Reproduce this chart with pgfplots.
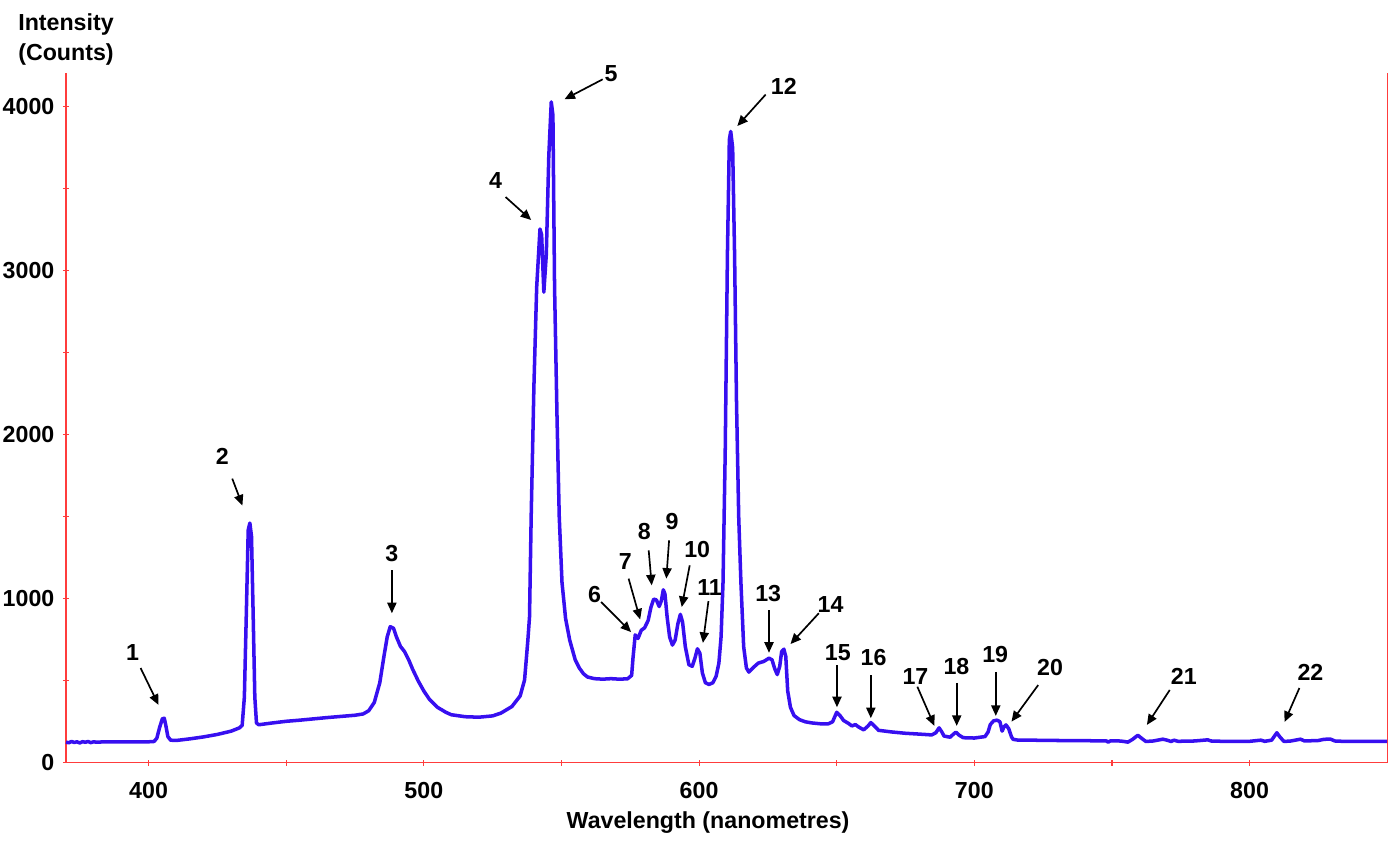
\documentclass[border=0pt]{standalone}
\usepackage{fontspec}
\setmainfont{Liberation Sans}
\usepackage{pgfplots}
\pgfplotsset{compat=1.18}
\usetikzlibrary{arrows.meta}
\definecolor{specblue}{RGB}{55,15,240}
\definecolor{axred}{RGB}{255,60,60}
\newcommand{\annfont}{\fontsize{16.5}{21.3}\selectfont\bfseries}
\tikzset{annarrow/.style={-{Triangle[length=7.5pt,width=6.5pt]}, line width=1.2pt, black}}
% label, label x, label y, tail x, tail y, head x, head y
\newcommand{\ann}[7]{%
  \node[font=\annfont, inner sep=0pt] at (axis cs:#2,#3) {#1};
  \draw[annarrow] (axis cs:#4,#5) -- (axis cs:#6,#7);
}

\begin{document}
\begin{tikzpicture}
\useasboundingbox (-1.65,-2.0) rectangle (33.35,19.07);
\begin{axis}[
    at={(0,0)}, anchor=south west,
    scale only axis,
    width=33.03cm, height=17.235cm,
    xmin=370, xmax=850, ymin=0, ymax=4204,
    xtick={400,500,...,800}, minor xtick={450,550,650,750},
    ytick={0,1000,...,4000}, minor ytick={500,1500,2500,3500},
    xtick pos=bottom, ytick pos=left,
    tick align=center,
    major tick length=0.16cm, minor tick length=0.16cm,
    tick style={axred, line width=0.8pt},
    axis line style={draw=none},
    tick label style={font=\annfont},
    xticklabel style={anchor=north, inner sep=0pt, yshift=-0.40cm},
    yticklabel style={anchor=east, inner sep=0pt, xshift=-0.205cm},
    /pgf/number format/assume math mode=true,
    /pgf/number format/set thousands separator={},
    clip=false,
]
\draw[axred, line width=0.9pt] (rel axis cs:0,1) -- (rel axis cs:0,0) -- (rel axis cs:1,0) -- (rel axis cs:1,1);

\addplot[specblue, line width=2.5pt, line join=round, mark=none] coordinates {
(370,126) (371,122) (372,130) (373,124) (374,128) (375,121) (376,129) (377,125)
(378,130) (379,123) (380,128) (381,126) (385,128) (390,128) (395,128) (400,128)
(402,130) (403,150) (404,215) (405,268) (405.7,272) (406.3,225) (407,160) (408,138)
(410,136) (415,146) (420,158) (425,173) (430,193) (433,213) (434,228) (434.8,400)
(435.5,900) (436.2,1420) (436.8,1462) (437.4,1380) (438,900) (438.6,400) (439.2,243)
(440,232) (445,243) (450,253) (455,260) (460,268) (465,276) (470,283) (475,290)
(478,298) (480,318) (482,368) (484,488) (485.5,648) (486.7,768) (487.8,830) (489,820)
(490,770) (491.5,710) (493,678) (494.5,628) (496,568) (498,498) (500,438) (502,388)
(505,338) (508,308) (510,293) (515,281) (520,278) (525,286) (528,303) (532,343)
(535,408) (536.6,505) (537.8,748) (538.4,890) (539,1500) (540,2300) (541,2900)
(542.2,3255) (542.8,3220) (543.6,2870) (544.5,3100) (545.4,3700) (546.3,4030)
(546.9,3950) (547.5,2900) (548.4,2100) (549.2,1500) (550.2,1100) (551.5,880)
(553,748) (555,628) (556.5,578) (558,543) (559.5,523) (562,513) (565,510) (568,513)
(571,510) (574,512) (575.5,533) (576,640) (576.8,780) (577.8,758) (579,808)
(580.2,823) (581.5,868) (582.5,948) (583.5,998) (584.5,993) (585.5,953) (586.3,988)
(587,1055) (587.6,1030) (588.4,888) (589.3,768) (590.3,718) (591.3,748) (592.3,848)
(593.2,905) (594,858) (595,708) (596.3,598) (597.5,588) (598.5,638) (599.4,695)
(600.3,668) (601.2,548) (602.3,488) (603.6,478) (605,488) (606.2,528) (607.2,608)
(608,770) (608.7,1100) (609.5,1900) (610.3,3100) (611,3800) (611.5,3850)
(612.2,3750) (612.9,3100) (613.6,2200) (614.4,1500) (615.2,1100) (616.2,708)
(617.2,578) (618.1,553) (619.5,578) (621.5,608) (623.5,618) (625.4,638) (626.5,628)
(627.5,573) (628.4,538) (629.3,588) (630,678) (630.8,693) (631.5,648) (632.2,438)
(633.2,338) (634.5,288) (636.5,263) (638.6,250) (641,243) (644,238) (647,238)
(648.5,250) (650,308) (651.2,288) (652.5,258) (654.3,240) (655.5,225) (656.8,233)
(658,218) (659.8,201) (661.3,223) (662.4,245) (663.5,228) (665.2,198) (670,188)
(675,180) (680,175) (684.5,170) (686,183) (687.2,213) (688.2,188) (689,163)
(691.2,156) (692.3,173) (693.3,187) (694.5,168) (696,153) (700,151) (703.9,160)
(705,188) (705.8,233) (707,256) (708.3,260) (709.3,250) (710.1,193) (710.8,220)
(711.5,231) (712.5,208) (713.5,158) (714.1,143) (716,138) (720,138) (730,136)
(740,135) (748,133) (748.6,126) (749.5,134) (752,134) (754,131) (755.8,126)
(757.5,143) (759.4,168) (760.5,153) (762.3,130) (765,133) (768.5,144) (770,138)
(771.5,130) (772.5,138) (774,131) (780,133) (784.8,140) (786,133) (790,131)
(800,131) (804.1,138) (805.5,131) (808,138) (809.9,183) (811,158) (812.5,130)
(815,133) (818.5,144) (820,133) (825,136) (827,143) (829.3,145) (831,133)
(835,130) (840,130) (845,130) (850,130)
};

\ann{1}{394.2}{675}{397.1}{578}{403.6}{353}
\ann{2}{426.8}{1866}{430.4}{1733}{434.1}{1569}
\ann{3}{488.4}{1277}{488.4}{1173}{488.4}{912}
\ann{4}{526.1}{3550}{529.7}{3450}{539}{3310}
\ann{5}{568}{4200}{565}{4168}{551.1}{4046}
\ann{6}{562}{1028}{564.4}{981}{575.3}{797}
\ann{7}{573.2}{1230}{574.4}{1123}{578.6}{874}
\ann{8}{580.1}{1410}{581.7}{1295}{582.8}{1082}
\ann{9}{590.2}{1471}{589.1}{1356}{588.1}{1123}
\ann{10}{599.3}{1301}{596.6}{1204}{593.7}{950}
\ann{11}{603.8}{1070}{603.4}{986}{601.4}{731}
\ann{12}{630.8}{4125}{624.2}{4075}{613.9}{3883}
\ann{13}{625.1}{1033}{625.4}{930}{625.4}{671}
\ann{14}{647.8}{967}{643.5}{912}{633.2}{724}
\ann{15}{650.4}{669}{650.1}{596}{650.1}{339}
\ann{16}{663.4}{645}{662.4}{535}{662.4}{272}
\ann{17}{678.6}{529}{679.3}{464}{685.5}{225}
\ann{18}{693.5}{590}{693.6}{488}{693.6}{225}
\ann{19}{707.6}{663}{707.8}{555}{707.8}{286}
\ann{20}{727.5}{584}{723.2}{474}{713.5}{251}
\ann{21}{776.1}{529}{771}{444}{762.7}{231}
\ann{22}{822.1}{553}{818.1}{456}{812.7}{249}

\node[font=\annfont, inner sep=0pt, anchor=north] at (rel axis cs:0.486,0) [yshift=-1.22cm] {Wavelength (nanometres)};
\node[font=\annfont, inner sep=0pt, anchor=north west, align=left] at (rel axis cs:-0.0363,1.0875) {Intensity\\(Counts)};
\end{axis}
\end{tikzpicture}
\end{document}
